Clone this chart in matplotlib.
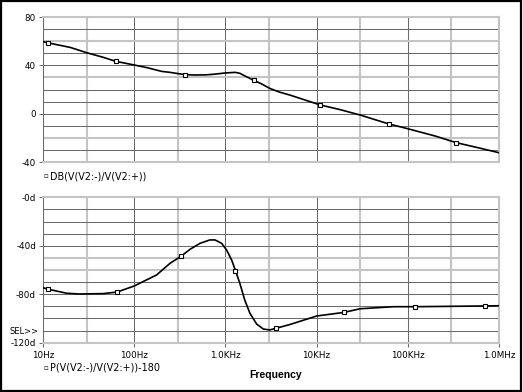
import matplotlib.pyplot as plt
from matplotlib.patches import Rectangle

# magnitude trace (dB)
mag_freq = [10, 11.4, 20, 30, 45, 63, 100, 140, 200, 247, 300, 360, 465, 600,
            740, 1000, 1280, 1440, 1700, 2050, 2500, 3050, 3900, 5100, 7000,
            11000, 18000, 30000, 62000, 96000, 200000, 340000, 600000, 1000000]
mag_db = [59.6, 58.6, 54.8, 50.5, 46.8, 43.3, 40.3, 38.0, 35.0, 34.2, 33.2,
          32.3, 32.0, 32.1, 32.6, 33.7, 34.2, 33.4, 30.6, 27.6, 24.6, 21.0,
          17.9, 15.4, 12.0, 7.2, 3.4, -1.1, -8.5, -12.1, -18.5, -24.0, -28.3,
          -32.3]
mag_mark_freq = [11.4, 63, 360, 2050, 11000, 62000, 340000]
mag_mark_db = [58.6, 43.3, 32.3, 27.6, 7.2, -8.5, -24.0]

# phase trace (deg)
ph_freq = [10, 11.4, 18.2, 25, 45.7, 65, 100, 176, 247, 330, 410, 527, 675,
           770, 910, 1030, 1170, 1290, 1440, 1630, 1860, 2200, 2600, 3050,
           3600, 5100, 10000, 20000, 30000, 70000, 120000, 700000, 1000000]
ph_deg = [-74.6, -75.9, -79.2, -79.8, -79.5, -78.2, -73.2, -64.1, -54.5,
          -48.4, -42.9, -38.0, -35.2, -35.2, -38.0, -43.5, -51.7, -60.5,
          -71.0, -84.8, -95.8, -104.6, -108.7, -109.5, -108.1, -105.0, -98.0,
          -95.0, -92.0, -90.3, -90.3, -89.7, -89.5]
ph_mark_freq = [11.4, 65, 330, 1290, 3600, 20000, 120000, 700000]
ph_mark_deg = [-75.9, -78.2, -48.4, -60.5, -108.1, -95.0, -90.3, -89.7]

decades = [10, 100, 1000, 10000, 100000, 1000000]
decade_labels = ["10Hz", "100Hz", "1.0KHz", "10KHz", "100KHz", "1.0MHz"]
thirds = [30, 300, 3000, 30000, 300000]

mag_ticks = [80, 40, 0, -40]
mag_labels = ["80", "40", "0", "-40"]
mag_rows = [70, 60, 50, 30, 20, 10, -10, -20, -30]
mag_gray = [60, 30, -20]

ph_ticks = [0, -40, -80, -120]
ph_labels = ["-0d", "-40d", "-80d", "-120d"]
ph_rows = [-10, -20, -30, -50, -60, -70, -90, -100, -110]
ph_gray = [-50, -60]

DARK = "#6a6a6a"
LIGHT = "#c4c4c4"
TICK_FS = 6.3
LEG_FS = 6.9


def style(ax, ylim, ticks, labels, rows, gray):
    ax.set_xscale("log")
    ax.set_xlim(10, 1e6)
    ax.set_ylim(*ylim)
    ax.set_xticks(decades)
    ax.minorticks_off()
    ax.set_yticks(ticks)
    ax.set_yticklabels(labels, fontsize=TICK_FS)
    for f in thirds:
        ax.axvline(f, color=LIGHT, lw=1.5, zorder=1)
    for f in decades[1:-1]:
        ax.axvline(f, color=DARK, lw=0.75, zorder=1)
    for v in rows + ticks[1:-1]:
        if v in gray:
            ax.axhline(v, color=LIGHT, lw=1.5, zorder=1)
        else:
            ax.axhline(v, color=DARK, lw=0.75, zorder=1)
    for side in ["top", "right", "bottom"]:
        ax.spines[side].set_color(LIGHT)
        ax.spines[side].set_linewidth(1.5)
    ax.spines["left"].set_color(DARK)
    ax.spines["left"].set_linewidth(0.75)
    ax.tick_params(axis="y", length=3, width=0.75, color=DARK, pad=2)
    ax.tick_params(axis="x", length=3, width=0.75, color=DARK, pad=3)


fig = plt.figure(figsize=(5.23, 3.92), dpi=100)
fig.patches.append(Rectangle((0.002, 0.003), 0.994, 0.994, transform=fig.transFigure,
                             fill=False, edgecolor="black", linewidth=1.6))

ax1 = fig.add_axes([0.0822, 0.5867, 0.8719, 0.3699])
style(ax1, (-40, 80), mag_ticks, mag_labels, mag_rows, mag_gray)
ax1.set_xticklabels([])
ax1.tick_params(axis="x", length=0)
ax1.plot(mag_freq, mag_db, color="black", lw=1.2, zorder=3)
ax1.plot(mag_mark_freq, mag_mark_db, ls="none", marker="s", ms=2.4,
         mfc="white", mec="black", mew=0.8, zorder=4)

ax2 = fig.add_axes([0.0822, 0.1258, 0.8719, 0.3709])
style(ax2, (-120, 0), ph_ticks, ph_labels, ph_rows, ph_gray)
ax2.set_xticklabels(decade_labels, fontsize=TICK_FS)
ax2.plot(ph_freq, ph_deg, color="black", lw=1.2, zorder=3)
ax2.plot(ph_mark_freq, ph_mark_deg, ls="none", marker="s", ms=2.4,
         mfc="white", mec="black", mew=0.8, zorder=4)

for ypix, label in [(176, "DB(V(V2:-)/V(V2:+))"), (368, "P(V(V2:-)/V(V2:+))-180")]:
    fig.text(46 / 523, 1 - ypix / 392, "\u25ab", fontsize=5, va="center",
             ha="center")
    fig.text(50 / 523, 1 - ypix / 392, label, fontsize=LEG_FS, va="center",
             ha="left")
fig.text(9 / 523, 1 - 331 / 392, "SEL>>", fontsize=6, va="center", ha="left")
fig.text(276 / 523, 1 - 375 / 392, "Frequency", fontsize=7.5, fontweight="bold",
         family="Liberation Sans", va="center", ha="center")

fig.savefig("out.png", dpi=100)
